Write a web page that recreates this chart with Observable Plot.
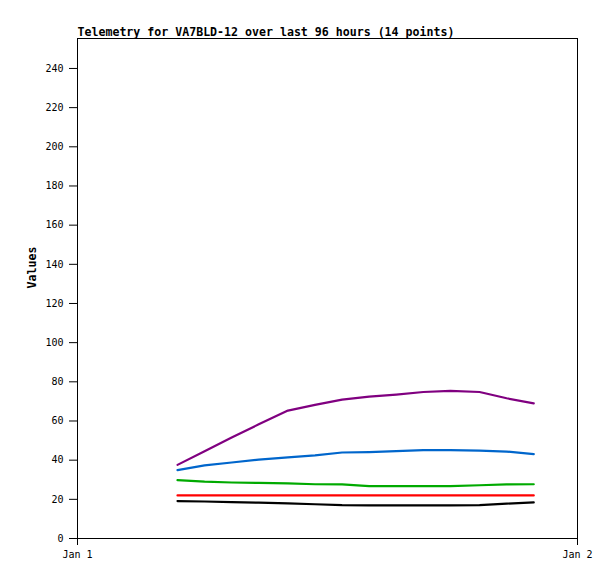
<!DOCTYPE html>
<html>
<head>
<meta charset="utf-8">
<script src="https://cdn.jsdelivr.net/npm/d3@7"></script>
<script src="https://cdn.jsdelivr.net/npm/@observablehq/plot@0.6"></script>
<style>
  html, body { margin: 0; padding: 0; background: #fff; }
  #chart svg { display: block; }
</style>
</head>
<body>
<div id="chart"></div>
<script>
const title = "Telemetry for VA7BLD-12 over last 96 hours (14 points)";
const yLabel = "Values";
// hours after Jan 1 00:00 for each of the 14 telemetry points
const hours = [4.8, 6.1, 7.4, 8.7, 10.1, 11.4, 12.7, 14.0, 15.3, 16.6, 17.9, 19.3, 20.6, 21.9];
const seriesNames = ["ch1", "ch2", "ch3", "ch4", "ch5"];
const seriesColors = ["#800080", "#0066cc", "#00aa00", "#ff0000", "#000000"];
const ch1 = [37.6, 44.6, 51.6, 58.3, 65.3, 68.2, 70.9, 72.4, 73.5, 74.8, 75.4, 74.8, 71.6, 69.0];
const ch2 = [34.9, 37.3, 38.8, 40.3, 41.4, 42.4, 43.9, 44.1, 44.6, 45.1, 45.1, 44.9, 44.4, 43.1];
const ch3 = [29.8, 29.0, 28.6, 28.4, 28.1, 27.7, 27.6, 26.7, 26.7, 26.7, 26.7, 27.2, 27.6, 27.7];
const ch4 = [22.0, 22.0, 22.0, 22.0, 22.0, 22.0, 22.0, 22.0, 22.0, 22.0, 22.0, 22.0, 22.0, 22.0];
const ch5 = [19.1, 18.9, 18.6, 18.3, 17.9, 17.5, 17.0, 16.9, 16.9, 16.9, 16.9, 17.0, 17.8, 18.4];
const yTicks = [0, 20, 40, 60, 80, 100, 120, 140, 160, 180, 200, 220, 240];
const xTickLabels = ["Jan 1", "Jan 2"];

const base = Date.UTC(2024, 0, 1);
const toDate = h => new Date(base + h * 3600 * 1000);
const xTicks = [toDate(0), toDate(24)];
const allSeries = [ch1, ch2, ch3, ch4, ch5];
const rows = [];
allSeries.forEach((vals, si) => {
  vals.forEach((v, i) => rows.push({series: seriesNames[si], t: toDate(hours[i]), v}));
});

const font = "'DejaVu Sans Mono', 'Liberation Mono', monospace";

const chart = Plot.plot({
  width: 615,
  height: 579,
  marginLeft: 77,
  marginRight: 38,
  marginTop: 38,
  marginBottom: 41,
  style: {fontFamily: font, fontSize: "10px", color: "#000", background: "#fff"},
  x: {type: "utc", domain: xTicks},
  y: {domain: [0, 255.3]},
  color: {domain: seriesNames, range: seriesColors},
  marks: [
    Plot.axisY({ticks: yTicks, tickSize: 8, tickPadding: 6, label: null, stroke: "#000"}),
    Plot.axisX({ticks: xTicks, tickSize: 7, tickPadding: 5, label: null,
      tickFormat: (d, i) => xTickLabels[i], stroke: "#000"}),
    Plot.frame({stroke: "#000", strokeWidth: 1}),
    Plot.line(rows, {x: "t", y: "v", z: "series", stroke: "series", strokeWidth: 2.2, curve: "linear"}),
    Plot.text([title], {frameAnchor: "top-left", text: d => d, textAnchor: "start",
      lineAnchor: "bottom", dy: -3, fontWeight: "bold", fontSize: 11.6, fill: "#000"}),
    Plot.text([yLabel], {frameAnchor: "left", text: d => d, rotate: -90, dx: -45,
      fontWeight: "bold", fontSize: 11.6, fill: "#000"})
  ]
});
document.getElementById("chart").appendChild(chart);
</script>
</body>
</html>
